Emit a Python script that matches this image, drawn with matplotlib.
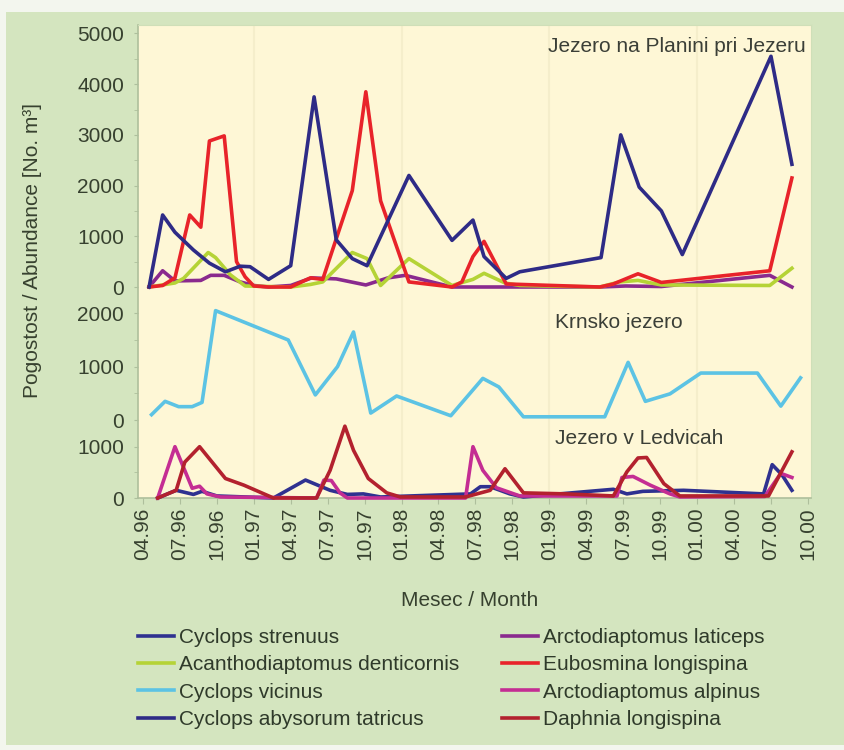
import matplotlib
matplotlib.use("Agg")
import matplotlib.pyplot as plt
from matplotlib.patches import Rectangle
from matplotlib.ticker import MultipleLocator

plt.rcParams['font.family'] = ['Liberation Sans', 'DejaVu Sans']

# time axis: months counted from January 1996 (04.96 -> 3)
tick_m = [3, 6, 9, 12, 15, 18, 21, 24, 27, 30, 33, 36, 39, 42, 45, 48, 51, 54, 57]
tick_labels = ['04.96', '07.96', '10.96', '01.97', '04.97', '07.97', '10.97',
               '01.98', '04.98', '07.98', '10.98', '01.99', '04.99', '07.99',
               '10.99', '01.00', '04.00', '07.00', '10.00']
year_lines = [12, 24, 36, 48]

# Jezero na Planini pri Jezeru
tatricus_m = [3.5, 4.6, 5.6, 7.1, 8.4, 9.7, 10.9, 11.7, 13.2, 15.0, 16.9, 18.7, 20.0, 21.2,
              24.6, 28.1, 29.8, 30.7, 32.5, 33.6, 40.2, 41.8, 43.3, 45.1, 46.8, 54.0, 55.7]
tatricus_v = [0, 1420, 1080, 730, 470, 300, 410, 400, 150, 420, 3750, 930, 560, 420,
              2200, 920, 1320, 600, 170, 300, 580, 3000, 1970, 1500, 640, 4550, 2420]

eubosmina_m = [3.5, 4.6, 5.6, 6.8, 7.7, 8.4, 9.6, 10.6, 11.3, 12.0, 13.2, 15.0, 16.6, 17.6,
               20.0, 21.1, 22.3, 24.6, 28.1, 28.9, 29.8, 30.7, 32.5, 40.1, 41.2, 43.2, 45.1,
               53.9, 55.7]
eubosmina_v = [0, 30, 180, 1420, 1180, 2880, 2980, 500, 200, 20, 0, 0, 180, 150,
               1900, 3850, 1700, 100, 0, 100, 600, 900, 60, 0, 60, 260, 90,
               320, 2150]

acantho_m = [3.5, 5.6, 6.3, 8.3, 8.9, 10.1, 11.3, 15.0, 16.6, 17.6, 20.0, 21.2, 22.3,
             24.6, 28.1, 29.8, 30.7, 32.4, 33.6, 40.1, 41.7, 43.2, 45.1, 53.9, 55.7]
acantho_v = [0, 80, 170, 680, 580, 240, 20, 0, 50, 100, 680, 560, 30,
             560, 30, 150, 270, 80, 30, 0, 100, 130, 40, 30, 370]

laticeps_m = [3.5, 4.6, 5.6, 7.7, 8.5, 9.6, 10.9, 12.0, 13.2, 15.0, 16.7, 18.7, 21.1,
              22.9, 24.3, 28.1, 30.7, 40.1, 42.2, 45.1, 53.9, 55.7]
laticeps_v = [0, 320, 120, 130, 230, 230, 100, 30, 0, 30, 180, 160, 40,
              180, 230, 0, 0, 0, 20, 10, 230, 0]

# Krnsko jezero
vicinus_m = [3.7, 4.8, 5.9, 7.0, 7.8, 8.9, 14.8, 17.0, 18.8, 20.1, 21.5, 23.6, 28.0,
             30.6, 31.9, 33.9, 40.5, 42.4, 43.8, 45.8, 48.3, 52.9, 54.8, 56.4]
vicinus_v = [100, 350, 250, 250, 330, 2050, 1500, 470, 1000, 1650, 130, 450, 80,
             780, 620, 60, 60, 1080, 350, 490, 880, 880, 260, 790]

# Jezero v Ledvicah
daphnia_m = [4.2, 5.7, 6.4, 7.6, 9.7, 11.2, 13.6, 17.1, 18.2, 19.4, 20.1, 21.3, 22.8, 23.9,
             29.2, 31.2, 32.4, 33.9, 37.4, 41.2, 42.3, 43.2, 43.9, 45.3, 46.6, 53.8, 55.7]
daphnia_v = [0, 150, 700, 1000, 380, 250, 0, 0, 540, 1400, 930, 380, 100, 20,
             20, 150, 570, 100, 80, 40, 510, 780, 790, 280, 40, 40, 900]

alpinus_m = [4.2, 5.6, 7.0, 7.6, 8.2, 9.3, 17.1, 17.7, 18.3, 19.0, 19.6, 29.2, 29.8,
             30.6, 31.7, 33.6, 41.5, 41.9, 42.8, 44.2, 45.8, 46.6, 53.5, 54.8, 55.7]
alpinus_v = [0, 1000, 190, 230, 80, 20, 0, 350, 340, 100, 0, 0, 1000,
             540, 200, 40, 40, 400, 420, 250, 80, 20, 30, 480, 400]

strenuus_m = [4.2, 5.7, 7.1, 7.8, 9.0, 13.6, 16.2, 18.2, 19.6, 20.9, 22.3, 29.6, 30.4,
              31.2, 32.8, 33.9, 41.2, 42.3, 43.6, 46.9, 53.4, 54.1, 54.9, 55.7]
strenuus_v = [0, 150, 70, 130, 40, 0, 350, 150, 70, 80, 20, 80, 220,
              220, 80, 20, 170, 80, 130, 150, 80, 650, 450, 150]

W, H = 845, 750
green = '#d4e5bf'
cream = '#fef7d6'
txt = '#37412f'
edge = '#aebf9c'
lw = 2.6
fs = 15


def box(x0, y0, x1, y1):
    # pixel box measured from the top-left corner -> figure fraction
    return [x0 / W, 1 - y1 / H, (x1 - x0) / W, (y1 - y0) / H]


fig = plt.figure(figsize=(W / 100, H / 100), dpi=100, facecolor='#f3f6ee')
fig.patches.append(Rectangle((6 / W, 5 / H), 839 / W, 733 / H, transform=fig.transFigure,
                             facecolor=green, edgecolor='none', zorder=-5))

# common background with the time axis
ax = fig.add_axes(box(138, 25, 811, 498))
ax.set_facecolor(cream)
ax.set_xlim(2.6, 57.25)
ax.set_ylim(0, 1)
ax.set_yticks([])
for s in ['top', 'right']:
    ax.spines[s].set_color('#cfdfb8')
ax.spines['left'].set_color(edge)
ax.spines['bottom'].set_color(edge)
ax.spines['left'].set_linewidth(1.2)
ax.spines['bottom'].set_linewidth(1.2)
for m in year_lines:
    ax.axvline(m, color='#f5eecb', lw=1.5, zorder=0)
ax.set_xticks(tick_m)
ax.set_xticklabels(tick_labels, rotation=90, fontsize=fs, color=txt)
ax.tick_params(axis='x', length=4, color=edge, pad=3)


def panel(y_top, y_zero, ymax, major, title, tx, ty, ha):
    p = fig.add_axes(box(138, y_top, 811, y_zero), sharex=ax)
    p.patch.set_visible(False)
    for s in p.spines.values():
        s.set_visible(False)
    p.set_ylim(0, ymax)
    p.yaxis.set_major_locator(MultipleLocator(1000))
    p.yaxis.set_minor_locator(MultipleLocator(500))
    p.set_yticks(major)
    p.tick_params(axis='x', bottom=False, labelbottom=False)
    p.tick_params(axis='y', which='both', length=3, color=edge, pad=7,
                  labelsize=fs, labelcolor=txt)
    fig.text(tx / W, 1 - ty / H, title, fontsize=fs, color='#3b3f37', ha=ha, va='center')
    return p


top = panel(25, 287, 5167, [0, 1000, 2000, 3000, 4000, 5000],
            'Jezero na Planini pri Jezeru', 806, 47, 'right')
mid = panel(313.3, 420, 2000, [0, 1000, 2000], 'Krnsko jezero', 555, 322, 'left')
bot = panel(446.7, 498, 1000, [0, 1000], 'Jezero v Ledvicah', 555, 438, 'left')

l_lat, = top.plot(laticeps_m, laticeps_v, color='#8a2a8e', lw=lw, clip_on=False)
l_aca, = top.plot(acantho_m, acantho_v, color='#b5d336', lw=lw, clip_on=False)
l_eub, = top.plot(eubosmina_m, eubosmina_v, color='#e8232a', lw=lw, clip_on=False)
l_tat, = top.plot(tatricus_m, tatricus_v, color='#2e2b86', lw=lw, clip_on=False)

l_vic, = mid.plot(vicinus_m, vicinus_v, color='#5cc3e4', lw=lw, clip_on=False)

l_str, = bot.plot(strenuus_m, strenuus_v, color='#2f3190', lw=lw, clip_on=False)
l_alp, = bot.plot(alpinus_m, alpinus_v, color='#c42d93', lw=lw, clip_on=False)
l_dap, = bot.plot(daphnia_m, daphnia_v, color='#b3212e', lw=lw, clip_on=False)

fig.text(33 / W, 1 - 251 / H, 'Pogostost / Abundance [No. m³]', rotation=90,
         fontsize=fs, color=txt, ha='center', va='center')
fig.text(470 / W, 1 - 600 / H, 'Mesec / Month', fontsize=fs, color=txt,
         ha='center', va='center')

leg_opts = dict(loc='upper left', frameon=False, fontsize=fs, borderpad=0,
                borderaxespad=0, handlelength=1.75, handletextpad=0.2,
                labelspacing=0.4, labelcolor='#2f3a2a')
fig.legend([l_str, l_aca, l_vic, l_tat],
           ['Cyclops strenuus', 'Acanthodiaptomus denticornis', 'Cyclops vicinus',
            'Cyclops abysorum tatricus'],
           bbox_to_anchor=(138 / W, 1 - 628 / H), **leg_opts)
fig.legend([l_lat, l_eub, l_alp, l_dap],
           ['Arctodiaptomus laticeps', 'Eubosmina longispina', 'Arctodiaptomus alpinus',
            'Daphnia longispina'],
           bbox_to_anchor=(502 / W, 1 - 628 / H), **leg_opts)

plt.savefig('out.png', dpi=100, facecolor=fig.get_facecolor())
